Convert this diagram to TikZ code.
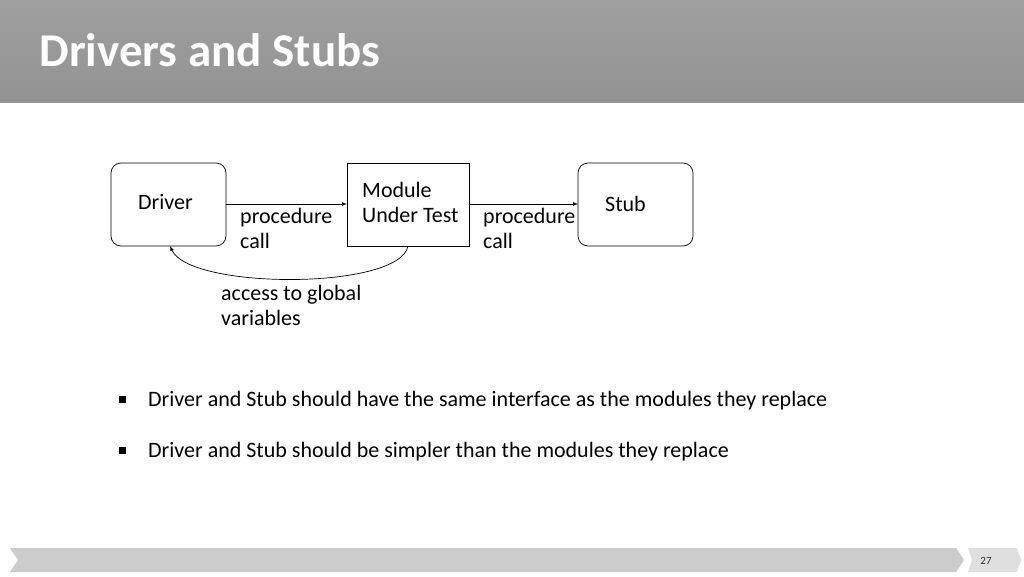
\documentclass[tikz,border=0pt]{standalone}
\usepackage{fontspec}
\setmainfont{Carlito}
\begin{document}
\begin{tikzpicture}[x=1pt,y=-1pt,
  box/.style={draw,line width=0.7pt,inner sep=0pt},
  lbl/.style={anchor=north west,align=left,font=\fontsize{22}{25.5}\selectfont,inner sep=0pt},
  arr/.style={-latex,line width=0.7pt}]
\useasboundingbox (0,0) rectangle (1024,576);
\fill[white] (0,0) rectangle (1024,576);
\shade[top color=gray!75,bottom color=gray!85] (0,0) rectangle (1024,102);
\node[anchor=west,text=white,font=\fontsize{47}{50}\selectfont\bfseries] (title) at (36,50) {Drivers and Stubs};
% diagram
\draw[box,rounded corners=10pt] (111,163) rectangle (226,246);
\node[lbl] (drv) at (138,194) {Driver};
\coordinate (drvR) at (226,204);
\coordinate (drvB) at (170,246);
\draw[box] (347,163) rectangle (469,246);
\node[lbl] (mut) at (362,182) {Module\\Under Test};
\coordinate (mutL) at (347,204);
\coordinate (mutR) at (469,204);
\coordinate (mutB) at (408,246);
\draw[box,rounded corners=10pt] (578,163) rectangle (693,246);
\node[lbl] (stub) at (605,196) {Stub};
\coordinate (stubL) at (578,204);
\draw[arr] (drvR) -- (mutL);
\draw[arr] (mutR) -- (stubL);
\draw[arr] (mutB) .. controls (400,290) and (190,290) .. (drvB);
\node[lbl] (pc1) at (240,208) {procedure\\call};
\node[lbl] (pc2) at (483,208) {procedure\\call};
\node[lbl] (acc) at (221,285) {access to global\\variables};
% bullets
\fill (119,396) rectangle (126,403);
\node[lbl] (b1) at (148,391) {Driver and Stub should have the same interface as the modules they replace};
\fill (119,447) rectangle (126,454);
\node[lbl] (b2) at (148,442) {Driver and Stub should be simpler than the modules they replace};
% footer
\fill[gray!40] (10,548) -- (956,548) -- (964,560) -- (956,572) -- (10,572) -- (18,560) -- cycle;
\fill[gray!25] (968,548) -- (1017,548) -- (1021,560) -- (1017,572) -- (968,572) -- (972,560) -- cycle;
\node[font=\fontsize{11}{12}\selectfont,text=gray!40!black] (pg) at (986,561) {27};
\end{tikzpicture}
\end{document}
